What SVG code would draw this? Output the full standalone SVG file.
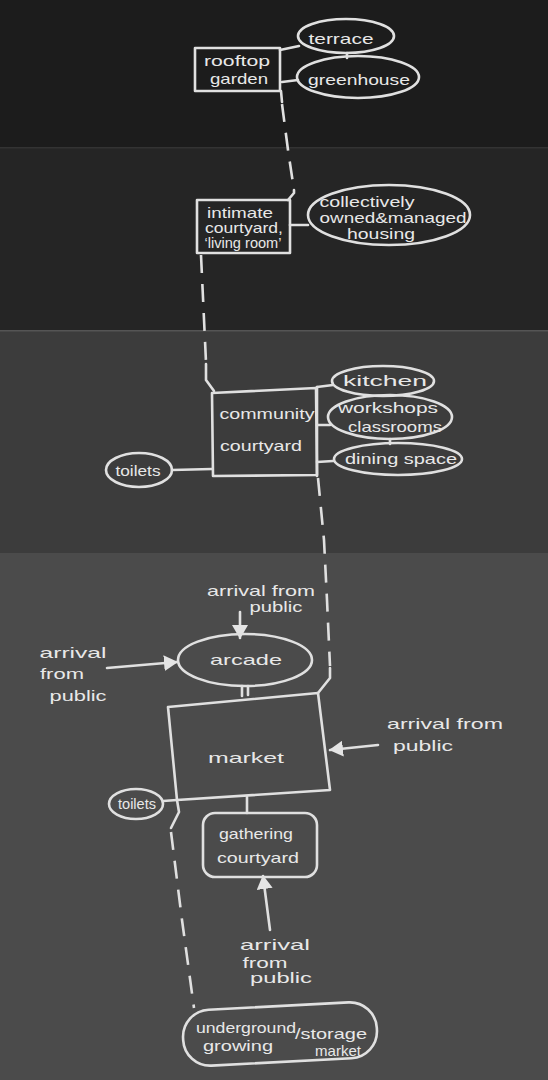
<svg xmlns="http://www.w3.org/2000/svg" width="548" height="1080" viewBox="0 0 548 1080">
<style>
.ln{fill:none;stroke:#e0e0e0;stroke-width:2.6;stroke-linecap:round;stroke-linejoin:round}
.dash{stroke-dasharray:18 11;stroke-linecap:butt}
.t{font-family:"Liberation Sans","DejaVu Sans",sans-serif;fill:#e8e8e8;font-size:15px;text-anchor:middle;dominant-baseline:central}
</style>
<defs>
<marker id="ah" viewBox="0 0 14 16" refX="13" refY="8" markerWidth="14" markerHeight="16" markerUnits="userSpaceOnUse" orient="auto">
<path d="M0,0 L14,8 L0,16 z" fill="#e4e4e4"/>
</marker>
</defs>
<g id="background">
<rect x="0" y="0" width="548" height="148" fill="#1c1c1c"/>
<rect x="0" y="148" width="548" height="183" fill="#252525"/>
<rect x="0" y="147" width="548" height="1.5" fill="#333333"/>
<rect x="0" y="331" width="548" height="222" fill="#3c3c3c"/>
<rect x="0" y="330" width="548" height="1.5" fill="#555555"/>
<rect x="0" y="553" width="548" height="527" fill="#4b4b4b"/>
</g>
<g id="connectors">
<path class="ln" d="M281,91 L282,102"/>
<path class="ln" d="M280,50 L299,46"/>
<path class="ln" d="M282,82 L298,80"/>
<path class="ln" d="M347,53 L347,58"/>
<path class="ln dash" d="M282,104 L288,150 L294,190"/>
<path class="ln" d="M294,190 L294,193 L288,200"/>
<path class="ln" d="M290,225 L308,225"/>
<path class="ln dash" d="M201,255 L206,362"/>
<path class="ln" d="M206,364 L206,380 L214,391"/>
<path class="ln" d="M317,387 L333,385"/>
<path class="ln" d="M317,425 L330,425"/>
<path class="ln" d="M317,462 L333,461"/>
<path class="ln" d="M390,439 L390,444"/>
<path class="ln" d="M172,470 L212,469"/>
<path class="ln" d="M317,387 L317,476"/>
<path class="ln dash" d="M318,478 L324,540 L327,600 L330,666"/>
<path class="ln" d="M330,668 L330,678 L318,693"/>
<path class="ln" d="M242,686 L242,696"/>
<path class="ln" d="M248,686 L248,695"/>
<path class="ln" d="M163,801 L177,800"/>
<path class="ln" d="M247,797 L247,813"/>
<path class="ln" d="M177,800 L179,812 L171,828"/>
<path class="ln dash" d="M171,832 L182,920 L194,1008"/>
<path class="ln" d="M240,612 L240,638" marker-end="url(#ah)"/>
<path class="ln" d="M107,668 L177,662" marker-end="url(#ah)"/>
<path class="ln" d="M378,745 L330,750" marker-end="url(#ah)"/>
<path class="ln" d="M270,930 L263,876" marker-end="url(#ah)"/>
</g>
<g id="rooftop-garden">
<rect class="ln" x="195" y="48" width="85" height="43"/>
<text class="t" x="237" y="60" textLength="66" lengthAdjust="spacingAndGlyphs">rooftop</text>
<text class="t" x="239" y="78" textLength="58" lengthAdjust="spacingAndGlyphs">garden</text>
</g>
<g id="terrace">
<ellipse class="ln" cx="346" cy="36" rx="48" ry="17"/>
<text class="t" x="341" y="38" font-size="16" textLength="65" lengthAdjust="spacingAndGlyphs">terrace</text>
</g>
<g id="greenhouse">
<ellipse class="ln" cx="358" cy="77" rx="61" ry="21"/>
<text class="t" x="359" y="79" font-size="17" textLength="102" lengthAdjust="spacingAndGlyphs">greenhouse</text>
</g>
<g id="intimate-courtyard">
<rect class="ln" x="197" y="200" width="93" height="53"/>
<text class="t" x="240" y="212" font-size="13" textLength="66" lengthAdjust="spacingAndGlyphs">intimate</text>
<text class="t" x="244" y="227" font-size="13" textLength="78" lengthAdjust="spacingAndGlyphs">courtyard,</text>
<text class="t" x="243" y="242" font-size="13" textLength="77" lengthAdjust="spacingAndGlyphs">‘living room’</text>
</g>
<g id="housing">
<ellipse class="ln" cx="389" cy="215" rx="81" ry="30"/>
<text class="t" x="367" y="201" font-size="16" textLength="95" lengthAdjust="spacingAndGlyphs">collectively</text>
<text class="t" x="393" y="217" font-size="16" textLength="147" lengthAdjust="spacingAndGlyphs">owned&amp;managed</text>
<text class="t" x="381" y="233" font-size="16" textLength="68" lengthAdjust="spacingAndGlyphs">housing</text>
</g>
<g id="community-courtyard">
<path class="ln" d="M212,393 L316,388 L317,475 L213,476 Z"/>
<text class="t" x="267" y="413" font-size="14" textLength="95" lengthAdjust="spacingAndGlyphs">community</text>
<text class="t" x="261" y="445" font-size="14" textLength="82" lengthAdjust="spacingAndGlyphs">courtyard</text>
</g>
<g id="kitchen">
<ellipse class="ln" cx="383" cy="381" rx="51" ry="15"/>
<text class="t" x="385" y="380" font-size="17" textLength="84" lengthAdjust="spacingAndGlyphs">kitchen</text>
</g>
<g id="workshops">
<ellipse class="ln" cx="390" cy="417" rx="62" ry="22"/>
<text class="t" x="388" y="407" font-size="13" textLength="100" lengthAdjust="spacingAndGlyphs">workshops</text>
<text class="t" x="395" y="426" font-size="13" textLength="94" lengthAdjust="spacingAndGlyphs">classrooms</text>
</g>
<g id="dining-space">
<ellipse class="ln" cx="398" cy="459" rx="64" ry="16"/>
<text class="t" x="401" y="458" font-size="16" textLength="112" lengthAdjust="spacingAndGlyphs">dining space</text>
</g>
<g id="toilets-1">
<ellipse class="ln" cx="139" cy="470" rx="33" ry="17"/>
<text class="t" x="138" y="470" font-size="12" textLength="45" lengthAdjust="spacingAndGlyphs">toilets</text>
</g>
<g id="arrival-top">
<text class="t" x="261" y="590" font-size="14" textLength="108" lengthAdjust="spacingAndGlyphs">arrival from</text>
<text class="t" x="276" y="606" font-size="14" textLength="53" lengthAdjust="spacingAndGlyphs">public</text>
</g>
<g id="arcade">
<ellipse class="ln" cx="245" cy="660" rx="67" ry="26"/>
<text class="t" x="246" y="659" font-size="17" textLength="72" lengthAdjust="spacingAndGlyphs">arcade</text>
</g>
<g id="arrival-left">
<text class="t" x="73" y="652" font-size="16" textLength="67" lengthAdjust="spacingAndGlyphs">arrival</text>
<text class="t" x="62" y="673" font-size="16" textLength="44" lengthAdjust="spacingAndGlyphs">from</text>
<text class="t" x="78" y="695" font-size="16" textLength="57" lengthAdjust="spacingAndGlyphs">public</text>
</g>
<g id="market">
<path class="ln" d="M168,707 L318,693 L330,790 L177,800 Z"/>
<text class="t" x="246" y="757" font-size="18" textLength="76" lengthAdjust="spacingAndGlyphs">market</text>
</g>
<g id="arrival-right">
<text class="t" x="445" y="723" font-size="16" textLength="116" lengthAdjust="spacingAndGlyphs">arrival from</text>
<text class="t" x="423" y="745" font-size="16" textLength="60" lengthAdjust="spacingAndGlyphs">public</text>
</g>
<g id="toilets-2">
<ellipse class="ln" cx="136" cy="804" rx="27" ry="15"/>
<text class="t" x="137" y="803" font-size="11" textLength="38" lengthAdjust="spacingAndGlyphs">toilets</text>
</g>
<g id="gathering-courtyard">
<rect class="ln" x="203" y="813" width="114" height="64" rx="12"/>
<text class="t" x="256" y="833" font-size="14" textLength="74" lengthAdjust="spacingAndGlyphs">gathering</text>
<text class="t" x="258" y="857" font-size="14" textLength="82" lengthAdjust="spacingAndGlyphs">courtyard</text>
</g>
<g id="arrival-bottom">
<text class="t" x="275" y="944" font-size="16" textLength="70" lengthAdjust="spacingAndGlyphs">arrival</text>
<text class="t" x="265" y="962" font-size="16" textLength="45" lengthAdjust="spacingAndGlyphs">from</text>
<text class="t" x="281" y="977" font-size="16" textLength="62" lengthAdjust="spacingAndGlyphs">public</text>
</g>
<g id="underground">
<rect class="ln" x="183" y="1006" width="194" height="56" rx="27" transform="rotate(-3 280 1034)"/>
<text class="t" x="246" y="1027" font-size="14" textLength="100" lengthAdjust="spacingAndGlyphs">underground</text>
<text class="t" x="238" y="1045" font-size="14" textLength="70" lengthAdjust="spacingAndGlyphs">growing</text>
<text class="t" x="331" y="1033" font-size="14" textLength="72" lengthAdjust="spacingAndGlyphs">/storage</text>
<text class="t" x="338" y="1050" font-size="10" textLength="46" lengthAdjust="spacingAndGlyphs">market</text>
</g>
</svg>
